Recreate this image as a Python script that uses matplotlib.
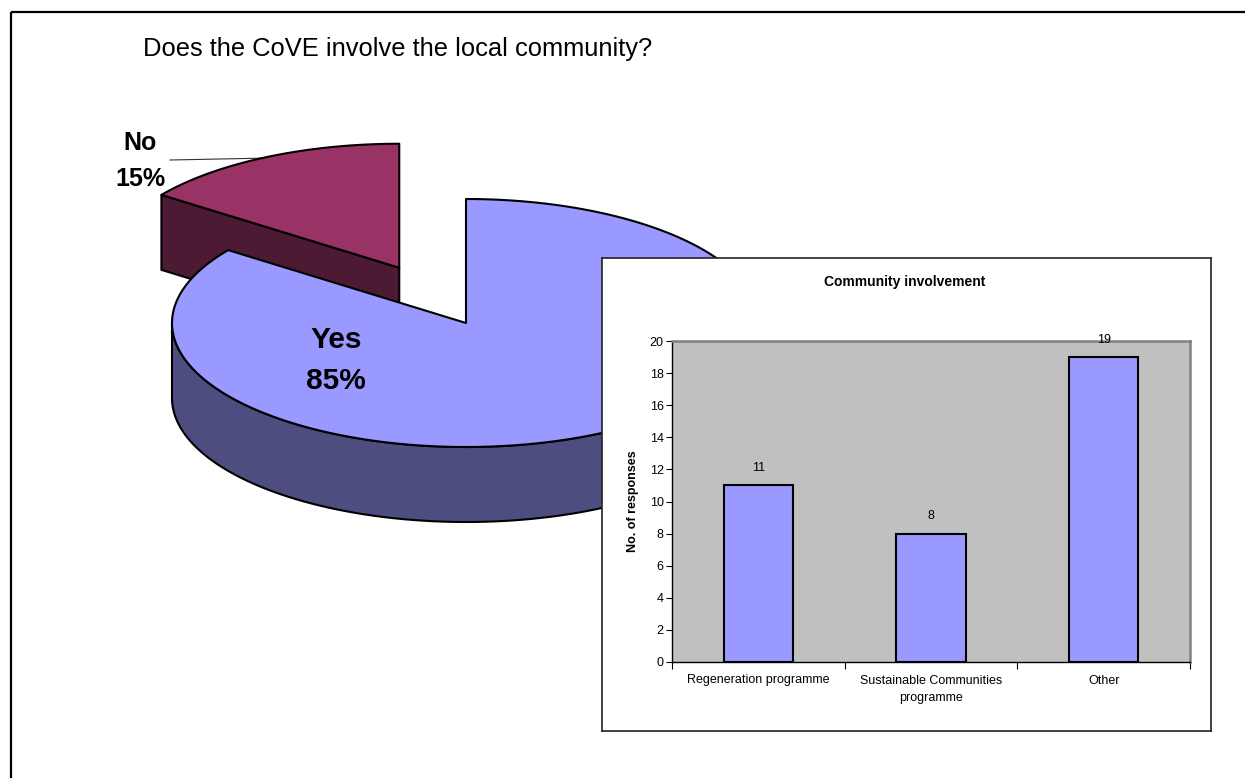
import numpy as np
import matplotlib
matplotlib.use("Agg")
import matplotlib.pyplot as plt
from matplotlib.patches import Polygon, Rectangle

plt.rcParams['font.family'] = ['Liberation Sans', 'DejaVu Sans']

# ---------------- data ----------------
pie_labels = ['Yes', 'No']
pie_values = [85, 15]
categories = ['Regeneration programme', 'Sustainable Communities\nprogramme', 'Other']
counts = [11, 8, 19]
yticks = list(range(0, 21, 2))

# ---------------- styles / geometry ----------------
W, H = 1245, 778
top_colors = ['#9999FF', '#993366']
side_colors = ['#4D4D80', '#4D1A33']
cx, cy = 466, 323          # pie centre (pixels)
rx, ry = 294, 124          # ellipse radii
depth = 75                 # pie thickness
explode = [0.0, 0.5]
edge_lw = 1.5

fig = plt.figure(figsize=(W / 100, H / 100), dpi=100)
ax = fig.add_axes([0, 0, 1, 1])
ax.set_xlim(0, W)
ax.set_ylim(H, 0)
ax.axis('off')

# figure border
ax.add_patch(Rectangle((11, 12), 1400, 1000, fill=False, ec='black', lw=1.6, zorder=1))

ax.text(143, 49, 'Does the CoVE involve the local community?', fontsize=18.4,
        ha='left', va='center', color='black')

# compute slice angles (clockwise from 12 o'clock)
total = sum(pie_values)
bounds = np.concatenate([[0], np.cumsum(pie_values) / total * 360.0])
slices = []
for i, v in enumerate(pie_values):
    a0, a1 = bounds[i], bounds[i + 1]
    mid = np.radians((a0 + a1) / 2)
    ox = explode[i] * rx * np.sin(mid)
    oy = -explode[i] * ry * np.cos(mid)
    slices.append((a0, a1, cx + ox, cy + oy))


def arc(c_x, c_y, a0, a1, n=200, dy=0.0):
    t = np.radians(np.linspace(a0, a1, n))
    return np.column_stack([c_x + rx * np.sin(t), c_y - ry * np.cos(t) + dy])


def draw_slice(i, z):
    a0, a1, sx, sy = slices[i]
    # radial side faces facing the viewer
    for ang, sign in [(a0, +1), (a1, -1)]:
        normal = np.radians(ang - 90 * sign)  # outward normal direction of face
        if np.cos(normal) < -1e-6:
            p = arc(sx, sy, ang, ang, n=1)[0]
            face = [(sx, sy), tuple(p), (p[0], p[1] + depth), (sx, sy + depth)]
            ax.add_patch(Polygon(face, closed=True, fc=side_colors[i], ec='black',
                                 lw=edge_lw, zorder=z, joinstyle='round'))
    # outer wall (front half only: 90..270)
    lo, hi = max(a0, 90), min(a1, 270)
    if lo < hi:
        top = arc(sx, sy, lo, hi)
        bot = arc(sx, sy, hi, lo, dy=depth)
        ax.add_patch(Polygon(np.vstack([top, bot]), closed=True, fc=side_colors[i],
                             ec='black', lw=edge_lw, zorder=z + 0.1, joinstyle='round'))
    # top face
    pts = np.vstack([[(sx, sy)], arc(sx, sy, a0, a1)])
    ax.add_patch(Polygon(pts, closed=True, fc=top_colors[i], ec='black',
                         lw=edge_lw, zorder=z + 0.2, joinstyle='round'))


# leader line for the "No" label (behind its slice)
ax.plot([170, 320], [160, 157], color='#333333', lw=0.8, zorder=2)
draw_slice(1, 3)   # No (behind)
draw_slice(0, 5)   # Yes (front)

ax.text(140, 143, pie_labels[1], fontsize=18, fontweight='bold', ha='center', va='center', zorder=10)
ax.text(140, 179, f'{pie_values[1]}%', fontsize=18, fontweight='bold', ha='center', va='center', zorder=10)
ax.text(336, 340, pie_labels[0], fontsize=21.5, fontweight='bold', ha='center', va='center', zorder=10)
ax.text(336, 381, f'{pie_values[0]}%', fontsize=21.5, fontweight='bold', ha='center', va='center', zorder=10)

# ---------------- inset bar chart ----------------
fx0, fy0, fx1, fy1 = 602, 258, 1211, 731
frame = fig.add_axes([fx0 / W, 1 - fy1 / H, (fx1 - fx0) / W, (fy1 - fy0) / H])
frame.set_facecolor('white')
frame.set_xticks([])
frame.set_yticks([])
for s in frame.spines.values():
    s.set_color('#222222')
    s.set_linewidth(1.2)

px0, py0, px1, py1 = 672, 341, 1190, 662
bax = fig.add_axes([px0 / W, 1 - py1 / H, (px1 - px0) / W, (py1 - py0) / H])
bax.set_facecolor('#C0C0C0')
x = np.arange(len(categories))
bars = bax.bar(x, counts, width=0.4, color='#9999FF', edgecolor='black', linewidth=1.5, zorder=3)
bax.set_xlim(-0.5, len(categories) - 0.5)
bax.set_ylim(0, 20)
bax.set_yticks(yticks)
bax.tick_params(axis='y', direction='out', length=4, width=0.8, labelsize=9, pad=2)
bax.set_xticks(np.arange(-0.5, len(categories), 1.0))
bax.set_xticklabels([])
bax.set_xticks(x, minor=True)
bax.set_xticklabels(categories, minor=True, fontsize=9, linespacing=1.6)
bax.tick_params(axis='x', which='major', direction='out', length=5, width=0.8)
bax.tick_params(axis='x', which='minor', length=0, pad=9)
for s in ['left', 'bottom']:
    bax.spines[s].set_color('black')
    bax.spines[s].set_linewidth(1.0)
for s in ['top', 'right']:
    bax.spines[s].set_color('#808080')
    bax.spines[s].set_linewidth(1.8)
bax.bar_label(bars, labels=[str(c) for c in counts], padding=8, fontsize=9)

fig.text(905 / W, 1 - 282 / H, 'Community involvement', fontsize=10, fontweight='bold',
         ha='center', va='center')
fig.text(633 / W, 1 - 501 / H, 'No. of responses', fontsize=9, fontweight='bold',
         rotation=90, ha='center', va='center')

fig.savefig('out.png', dpi=100)
